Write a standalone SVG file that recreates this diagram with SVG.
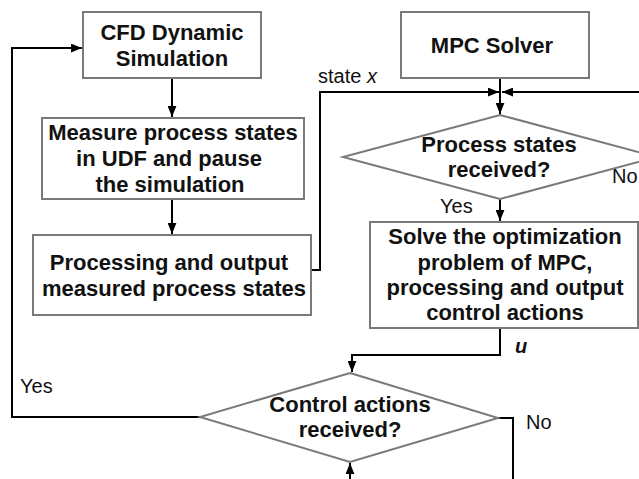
<svg xmlns="http://www.w3.org/2000/svg" width="639" height="479" viewBox="0 0 639 479">
<defs>
<marker id="arr" viewBox="0 0 10 8" refX="10" refY="4" markerWidth="11" markerHeight="9" markerUnits="userSpaceOnUse" orient="auto">
<path d="M0,0 L10,4 L0,8 z" fill="#000"/>
</marker>
<style>
.box{fill:#fff;stroke:#7a7a7a;stroke-width:2}
.t{font-family:"Liberation Sans",Arial,sans-serif;font-weight:bold;font-size:22px;fill:#111;text-anchor:middle}
.l{font-family:"Liberation Sans",Arial,sans-serif;font-size:20px;fill:#111}
.c{fill:none;stroke:#000;stroke-width:2}
</style>
</defs>
<rect width="639" height="479" fill="#fff"/>
<g id="connectors">
<path class="c" d="M12,48 L82,48" marker-end="url(#arr)"/>
<path class="c" d="M200,417 L12,417 L12,47"/>
<path class="c" d="M172,78 L172,117" marker-end="url(#arr)"/>
<path class="c" d="M172,199 L172,234" marker-end="url(#arr)"/>
<path class="c" d="M311,270 L320,270 L320,92 L499,92" marker-end="url(#arr)"/>
<path class="c" d="M639,92 L502,92" marker-end="url(#arr)"/>
<path class="c" d="M500,78 L500,114" marker-end="url(#arr)"/>
<path class="c" d="M500,199 L500,221" marker-end="url(#arr)"/>
<path class="c" d="M500,328 L500,355 L352,355 L352,372" marker-end="url(#arr)"/>
<path class="c" d="M498,418 L513,418 L513,479"/>
<path class="c" d="M350,479 L350,463" marker-end="url(#arr)"/>
<text class="l" x="318" y="83">state <tspan font-style="italic">x</tspan></text>
<text class="l" x="440" y="213">Yes</text>
<text class="l" x="612" y="183">No</text>
<text class="l" x="515" y="353" font-weight="bold" font-style="italic">u</text>
<text class="l" x="20" y="393">Yes</text>
<text class="l" x="526" y="429">No</text>
</g>
<g id="cfd">
<rect class="box" x="83" y="12" width="178" height="66"/>
<text class="t" x="172" y="40">CFD Dynamic</text>
<text class="t" x="172" y="66">Simulation</text>
</g>
<g id="measure">
<rect class="box" x="42" y="118" width="262" height="81"/>
<text class="t" x="173" y="140">Measure process states</text>
<text class="t" x="169" y="166">in UDF and pause</text>
<text class="t" x="170" y="192">the simulation</text>
</g>
<g id="processing">
<rect class="box" x="33" y="235" width="278" height="80"/>
<text class="t" x="169" y="270">Processing and output</text>
<text class="t" x="174" y="296">measured process states</text>
</g>
<g id="mpc">
<rect class="box" x="401" y="12" width="188" height="66"/>
<text class="t" x="492" y="53">MPC Solver</text>
</g>
<g id="decision1">
<polygon class="box" points="500,115 657,157 500,199 343,157"/>
<text class="t" x="499" y="152">Process states</text>
<text class="t" x="499" y="177">received?</text>
</g>
<g id="solve">
<rect class="box" x="370" y="222" width="268" height="106"/>
<text class="t" x="505" y="244">Solve the optimization</text>
<text class="t" x="505" y="270">problem of MPC,</text>
<text class="t" x="505" y="295">processing and output</text>
<text class="t" x="505" y="320">control actions</text>
</g>
<g id="decision2">
<polygon class="box" points="350,373 498,418 350,462 200,417"/>
<text class="t" x="350" y="412">Control actions</text>
<text class="t" x="350" y="437">received?</text>
</g>
</svg>
